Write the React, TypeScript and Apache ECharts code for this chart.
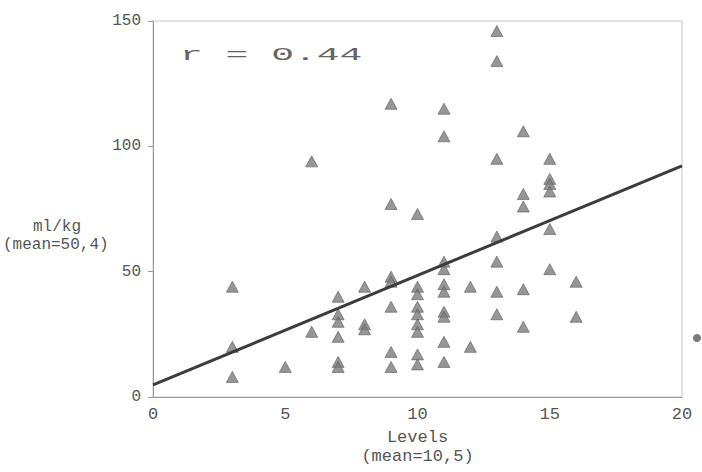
import React, { useEffect, useRef } from "react";
import * as echarts from "echarts";

// Levels (x) and ml/kg (y)
const levels: number[] = [
  3, 3, 3,
  5,
  6, 6,
  7, 7, 7, 7, 7, 7,
  8, 8, 8,
  9, 9, 9, 9, 9, 9, 9,
  10, 10, 10, 10, 10, 10, 10, 10, 10,
  11, 11, 11, 11, 11, 11, 11, 11, 11, 11,
  12, 12,
  13, 13, 13, 13, 13, 13, 13,
  14, 14, 14, 14, 14,
  15, 15, 15, 15, 15, 15,
  16, 16,
];
const mlkg: number[] = [
  44, 20, 8,
  12,
  94, 26,
  40, 33, 30, 24, 14, 12,
  44, 29, 27,
  117, 77, 48, 46, 36, 18, 12,
  73, 44, 41, 36, 33, 29, 26, 17, 13,
  115, 104, 54, 51, 45, 42, 34, 32, 22, 14,
  44, 20,
  146, 134, 95, 64, 54, 42, 33,
  106, 81, 76, 43, 28,
  95, 87, 85, 82, 67, 51,
  46, 32,
];
const fitX: number[] = [0, 20];
const fitY: number[] = [4.8, 92.2];
const xTicks: number[] = [0, 5, 10, 15, 20];
const yTicks: number[] = [0, 50, 100, 150];

const FONT = "'Liberation Mono', 'DejaVu Sans Mono', monospace";

export default function App() {
  const ref = useRef<HTMLDivElement>(null);
  useEffect(() => {
    if (!ref.current) return;
    const chart = echarts.init(ref.current, null, { renderer: "svg" });
    const points = levels.map((x, i) => [x, mlkg[i]]);
    const fit = fitX.map((x, i) => [x, fitY[i]]);
    chart.setOption({
      animation: false,
      backgroundColor: "#ffffff",
      grid: {
        left: 153,
        right: 20,
        top: 21,
        bottom: 75,
        show: true,
        borderColor: "#c8c8c8",
        borderWidth: 1,
      },
      xAxis: {
        type: "value",
        min: xTicks[0],
        max: xTicks[xTicks.length - 1],
        interval: xTicks[1] - xTicks[0],
        splitLine: { show: false },
        axisLine: { show: true, lineStyle: { color: "#9a9a9a", width: 1 } },
        axisTick: { show: false },
        axisLabel: {
          margin: 9,
          color: "#555",
          fontFamily: FONT,
          fontSize: 17,
        },
        name: "Levels\n(mean=10,5)",
        nameLocation: "middle",
        nameGap: 30,
        nameTextStyle: {
          color: "#555",
          fontFamily: FONT,
          fontSize: 17,
          lineHeight: 19,
        },
      },
      yAxis: {
        type: "value",
        min: yTicks[0],
        max: yTicks[yTicks.length - 1],
        interval: yTicks[1] - yTicks[0],
        splitLine: { show: false },
        axisLine: { show: true, lineStyle: { color: "#9a9a9a", width: 1 } },
        axisTick: { show: true, length: 5, lineStyle: { color: "#9a9a9a" } },
        axisLabel: {
          margin: 12,
          color: "#555",
          fontFamily: FONT,
          fontSize: 16,
        },
      },
      graphic: [
        {
          type: "text",
          left: 33,
          top: 219,
          style: {
            text: "ml/kg",
            fill: "#555",
            font: `16px ${FONT}`,
          },
        },
        {
          type: "text",
          left: 3,
          top: 237,
          style: {
            text: "(mean=50,4)",
            fill: "#555",
            font: `16px ${FONT}`,
          },
        },
        {
          type: "text",
          x: 180,
          y: 55,
          scaleX: 2,
          style: {
            text: "r = 0.44",
            fill: "#666",
            font: `19px ${FONT}`,
            verticalAlign: "middle",
            align: "left",
          },
        },
        {
          type: "circle",
          shape: { cx: 697, cy: 338, r: 4 },
          style: { fill: "#7a7a7a" },
        },
      ],
      series: [
        {
          type: "scatter",
          data: points,
          symbol: "triangle",
          symbolSize: [12, 11],
          itemStyle: { color: "#7c7c7c", borderColor: "#5e5e5e", borderWidth: 0.8 },
          z: 2,
        },
        {
          type: "line",
          data: fit,
          symbol: "none",
          lineStyle: { color: "#3c3c3c", width: 3 },
          z: 3,
        },
      ],
    });
    return () => chart.dispose();
  }, []);
  return (
    <div
      ref={ref}
      style={{ position: "fixed", left: 0, top: 0, width: 702, height: 472 }}
    />
  );
}
